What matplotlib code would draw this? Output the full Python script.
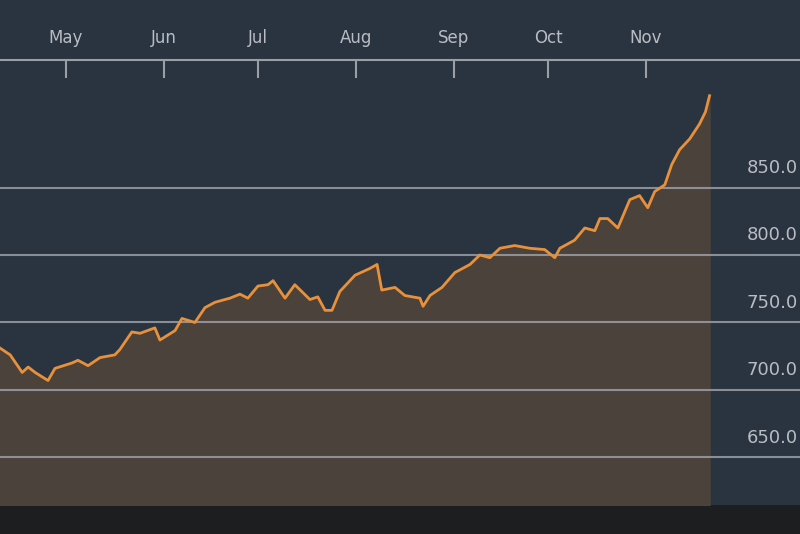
import matplotlib
matplotlib.use("Agg")
import matplotlib.pyplot as plt

# days since Apr 1
days = [9.1, 12.3, 16.1, 18.0, 20.2, 24.3, 26.5, 31.9, 33.8, 37.0, 40.8, 45.5, 47.1, 50.9, 53.5, 58.2, 59.8, 64.6, 66.8, 70.9, 74.1, 77.3, 82.0, 85.2, 87.7, 90.9, 94.1, 95.7, 99.5, 102.6, 107.4, 109.9, 112.2, 114.4, 116.9, 121.7, 126.4, 128.7, 130.2, 134.4, 137.5, 142.3, 143.3, 145.5, 149.3, 153.4, 158.2, 161.3, 164.5, 167.7, 172.4, 177.1, 181.9, 185.1, 186.7, 191.4, 194.6, 197.8, 199.4, 201.9, 205.1, 208.9, 212.0, 214.6, 216.8, 220.0, 222.2, 224.7, 227.9, 231.0, 232.9, 234.2]
values = [731, 726, 713, 717, 713, 707, 716, 720, 722, 718, 724, 726, 730, 743, 742, 746, 737, 744, 753, 750, 761, 765, 768, 771, 768, 777, 778, 781, 768, 778, 767, 769, 759, 759, 773, 785, 790, 793, 774, 776, 770, 768, 762, 770, 776, 787, 793, 800, 798, 805, 807, 805, 804, 798, 805, 811, 820, 818, 827, 827, 820, 841, 844, 835, 847, 852, 867, 878, 886, 897, 906, 918]
month_pos = [30, 61, 91, 122, 153, 183, 214]
month_labels = ["May", "Jun", "Jul", "Aug", "Sep", "Oct", "Nov"]
yticks = [650, 700, 750, 800, 850]

bg = "#2a3440"
fig = plt.figure(figsize=(8, 5.34), dpi=100, facecolor="#1d1e20")
ax = fig.add_axes([0, 29/534, 1, 505/534])
ax.set_facecolor(bg)
x0, x1 = 9.06, 262.9
y0, y1 = 614.8, 988.9
ax.set_xlim(x0, x1)
ax.set_ylim(y0, y1)
for s in ax.spines.values():
    s.set_visible(False)
ax.set_xticks([])
ax.set_yticks([])

ax.fill_between(days, values, y0, color="#4b423b", zorder=1)
for v in yticks:
    ax.axhline(v, color="#9a9fa6", lw=1.5, alpha=0.85, zorder=2)
    ax.text(245.9, v + 14.8, f"{v:.1f}", color="#b9bdc3", fontsize=13,
            va="center", ha="left", zorder=3)
ax.plot(days, values, color="#e8913a", lw=2, zorder=4)

ax.axhline(944.4, color="#9a9fa6", lw=1.5)
ax.vlines(month_pos, 931.1, 944.4, color="#9a9fa6", lw=1.5)
for p, l in zip(month_pos, month_labels):
    ax.text(p, 961, l, color="#b9bdc3", fontsize=12, ha="center", va="center")

fig.savefig("out.png", dpi=100, facecolor=fig.get_facecolor())
